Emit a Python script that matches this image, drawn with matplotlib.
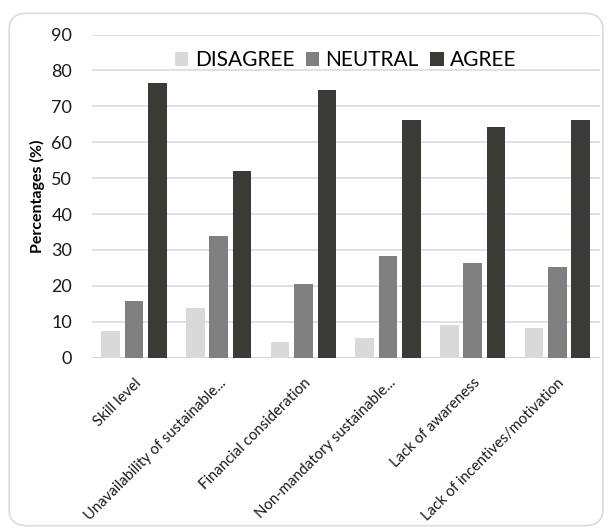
import numpy as np
import matplotlib
matplotlib.use("Agg")
import matplotlib.pyplot as plt
from matplotlib.patches import FancyBboxPatch

plt.rcParams['font.family'] = ['Lato', 'DejaVu Sans']

categories = ["Skill level", "Unavailability of sustainable...", "Financial consideration",
              "Non-mandatory sustainable...", "Lack of awareness", "Lack of incentives/motivation"]
disagree = [7.3, 13.9, 4.4, 5.4, 9.1, 8.4]
neutral = [15.9, 33.9, 20.5, 28.2, 26.3, 25.3]
agree = [76.5, 51.9, 74.6, 66.1, 64.2, 66.1]
yticks = [0, 10, 20, 30, 40, 50, 60, 70, 80, 90]

fig = plt.figure(figsize=(6.12, 5.31), dpi=100)
ax = fig.add_axes([0.150, 0.3264, 0.830, 0.6086])

x = np.arange(len(categories))
w = 0.22
step = 0.276
ax.bar(x - step, disagree, w, color="#d9d9d9", label="DISAGREE", zorder=3)
ax.bar(x, neutral, w, color="#808080", label="NEUTRAL", zorder=3)
ax.bar(x + step, agree, w, color="#3a3a37", label="AGREE", zorder=3)

ax.set_xlim(-0.5, 5.5)
ax.set_ylim(0, 90)
ax.set_yticks(yticks)
ax.set_yticklabels([str(t) for t in yticks], fontsize=13, color="#1a1a1a")
ax.yaxis.grid(True, color="#d5dde8", linewidth=1.2, zorder=0)
ax.set_axisbelow(True)
for s in ax.spines.values():
    s.set_visible(False)
ax.axhline(0, color="#d0d0d0", linewidth=1.2, zorder=2)
ax.tick_params(axis="y", length=0, pad=14)

ax.set_xticks(x)
ax.set_xticklabels(categories, rotation=45, ha="right", rotation_mode="anchor",
                   fontsize=10.7, color="#1a1a1a")
ax.tick_params(axis="x", length=0, pad=13)
ax.set_ylabel("Percentages (%)", fontsize=11.5, fontweight="bold", labelpad=5)

ax.legend(loc="upper center", bbox_to_anchor=(0.5, 0.978), ncol=3, frameon=False,
          fontsize=15, handlelength=0.65, handleheight=0.65, handletextpad=0.3,
          columnspacing=0.55, borderaxespad=0)

# rounded frame around the chart
frame = FancyBboxPatch((0.015, 0.01), 0.97, 0.965, boxstyle="round,pad=0,rounding_size=0.03",
                       transform=fig.transFigure, facecolor="none", edgecolor="#d6dce4",
                       linewidth=1.2)
fig.patches.append(frame)

fig.savefig("out.png", dpi=100)
